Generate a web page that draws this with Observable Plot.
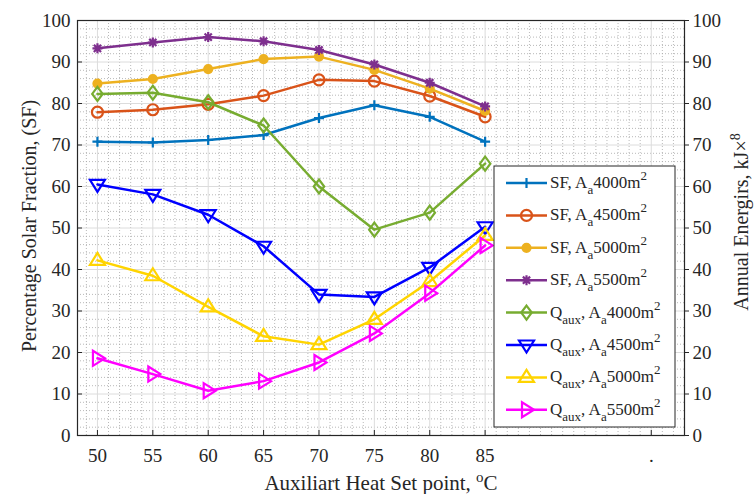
<!DOCTYPE html>
<html>
<head>
<meta charset="utf-8">
<script src="https://cdn.jsdelivr.net/npm/d3@7"></script>
<script src="https://cdn.jsdelivr.net/npm/@observablehq/plot@0.6"></script>
<style>
  html, body { margin: 0; padding: 0; background: #fff; }
  svg { display: block; }
  svg text, svg tspan { font-family: "Liberation Serif", "DejaVu Serif", serif !important; }
</style>
</head>
<body>
<div id="chart"></div>
<script>
// ---- data ----
const temps = [50, 55, 60, 65, 70, 75, 80, 85];
const sf4000 = [70.8, 70.6, 71.2, 72.4, 76.5, 79.6, 76.8, 70.8];
const sf4500 = [77.9, 78.5, 79.8, 81.9, 85.7, 85.4, 81.8, 76.8];
const sf5000 = [84.8, 85.9, 88.3, 90.7, 91.3, 88.1, 83.6, 78.2];
const sf5500 = [93.3, 94.7, 96.0, 95.0, 92.9, 89.4, 85.0, 79.3];
const q4000 = [82.3, 82.6, 80.3, 74.7, 60.0, 49.6, 53.7, 65.5];
const q4500 = [60.5, 58.1, 53.2, 45.6, 34.0, 33.4, 40.5, 50.3];
const q5000 = [42.2, 38.5, 31.0, 23.9, 21.9, 28.0, 37.1, 48.2];
const q5500 = [18.6, 14.8, 10.8, 13.1, 17.6, 24.6, 34.3, 45.8];

const seriesValues = [sf4000, sf4500, sf5000, sf5500, q4000, q4500, q5000, q5500];
const seriesKind = ["SF", "SF", "SF", "SF", "Q", "Q", "Q", "Q"];
const seriesKindSub = ["", "", "", "", "aux", "aux", "aux", "aux"];
const seriesArea = ["4000", "4500", "5000", "5500", "4000", "4500", "5000", "5500"];
const seriesColors = ["#0072BD", "#D95319", "#EDB120", "#7E2F8E", "#77AC30", "#0000FF", "#FFD400", "#FF00FF"];

const xTicks = [50, 55, 60, 65, 70, 75, 80, 85, 100];
const xTickLabels = ["50", "55", "60", "65", "70", "75", "80", "85", "."];
const yTicks = [0, 10, 20, 30, 40, 50, 60, 70, 80, 90, 100];

const xLabel = "Auxiliart Heat Set point, ";
const yLabelLeft = "Percentage Solar Fraction, (SF)";
const yLabelRight = "Annual Energirs, kJ\u00d7";

// ---- marker shapes ----
const rad = size => Math.sqrt(size / Math.PI);
const symPlus = { draw(c, s) { const r = rad(s); c.moveTo(-r, 0); c.lineTo(r, 0); c.moveTo(0, -r); c.lineTo(0, r); } };
const symCircle = { draw(c, s) { const r = rad(s); c.moveTo(r, 0); c.arc(0, 0, r, 0, 2 * Math.PI); } };
const symStar = { draw(c, s) { const r = rad(s), k = r * 0.72; c.moveTo(-r, 0); c.lineTo(r, 0); c.moveTo(0, -r); c.lineTo(0, r); c.moveTo(-k, -k); c.lineTo(k, k); c.moveTo(-k, k); c.lineTo(k, -k); } };
const symDiamond = { draw(c, s) { const r = rad(s), w = r * 0.75; c.moveTo(0, -r); c.lineTo(w, 0); c.lineTo(0, r); c.lineTo(-w, 0); c.closePath(); } };
const symDown = { draw(c, s) { const r = rad(s); c.moveTo(-r, -r * 0.6); c.lineTo(r, -r * 0.6); c.lineTo(0, r); c.closePath(); } };
const symUp = { draw(c, s) { const r = rad(s); c.moveTo(-r, r * 0.6); c.lineTo(r, r * 0.6); c.lineTo(0, -r); c.closePath(); } };
const symRight = { draw(c, s) { const r = rad(s); c.moveTo(-r * 0.6, -r); c.lineTo(-r * 0.6, r); c.lineTo(r, 0); c.closePath(); } };

const seriesSymbols = [symPlus, symCircle, symCircle, symStar, symDiamond, symDown, symUp, symRight];
const seriesR = [5, 5.5, 4, 5, 7, 7.5, 7.5, 7.5];
const seriesFilled = [false, false, true, false, false, false, false, false];

// ---- table ----
const rows = [];
seriesValues.forEach((vals, i) => temps.forEach((t, j) => rows.push({ s: i, x: t, y: vals[j] })));

const FONT = "Liberation Serif, DejaVu Serif, serif";
const marks = [];
// minor grid
marks.push(Plot.ruleX(d3.range(49, 103).filter(v => !xTicks.includes(v)), { stroke: "#a8a8a8", strokeDasharray: "1,2", strokeWidth: 1, strokeOpacity: 0.8 }));
marks.push(Plot.ruleY(d3.range(2, 100, 2).filter(v => v % 10 !== 0), { stroke: "#a8a8a8", strokeDasharray: "1,2", strokeWidth: 1, strokeOpacity: 0.8 }));
// major grid
marks.push(Plot.ruleX(xTicks, { stroke: "#dcdcdc", strokeWidth: 1 }));
marks.push(Plot.ruleY(yTicks, { stroke: "#dcdcdc", strokeWidth: 1 }));
// axes
marks.push(Plot.axisX(xTicks, { anchor: "bottom", tickSize: 0, tickPadding: 13, tickFormat: d => xTickLabels[xTicks.indexOf(d)], label: null, fontSize: 19, fontFamily: FONT }));
marks.push(Plot.axisX(xTicks, { anchor: "bottom", tickSize: 5, text: null, dy: -5, label: null, stroke: "#262626" }));
marks.push(Plot.axisY(yTicks, { anchor: "left", tickSize: 0, tickPadding: 7, label: null, fontSize: 19, fontFamily: FONT }));
marks.push(Plot.axisY(yTicks, { anchor: "left", tickSize: 5, text: null, dx: 5, label: null, stroke: "#262626" }));
marks.push(Plot.axisY(yTicks, { anchor: "right", tickSize: 4, tickPadding: 4, label: null, fontSize: 19, fontFamily: FONT, stroke: "#262626" }));
marks.push(Plot.frame({ stroke: "#262626", strokeWidth: 1.2 }));
// series
seriesValues.forEach((_, i) => {
  const d = rows.filter(r => r.s === i);
  marks.push(Plot.line(d, { x: "x", y: "y", stroke: seriesColors[i], strokeWidth: 2.5 }));
  marks.push(Plot.dot(d, {
    x: "x", y: "y", symbol: () => seriesSymbols[i], r: seriesR[i],
    stroke: seriesColors[i], fill: seriesFilled[i] ? seriesColors[i] : "none", strokeWidth: 2.2
  }));
});

const svg = Plot.plot({
  width: 755,
  height: 494,
  marginLeft: 77,
  marginRight: 71,
  marginTop: 20,
  marginBottom: 59,
  x: { domain: [48.2, 103] },
  y: { domain: [0, 100] },
  symbol: { type: "identity" },
  style: { fontFamily: FONT, fontSize: "19px", color: "#262626", background: "#fff" },
  marks
});

const s = d3.select(svg);

// axis titles
const xt = s.append("text").attr("x", 381).attr("y", 490).attr("text-anchor", "middle")
  .attr("font-family", FONT).attr("font-size", 21).attr("fill", "#262626");
xt.append("tspan").text(xLabel);
xt.append("tspan").attr("dy", -8).attr("font-size", 15).text("o");
xt.append("tspan").attr("dy", 8).text("C");

s.append("text").attr("transform", "translate(36,226) rotate(-90)").attr("text-anchor", "middle")
  .attr("font-family", FONT).attr("font-size", 20).attr("fill", "#262626").text(yLabelLeft);

const yr = s.append("text").attr("transform", "translate(748,222) rotate(-90)").attr("text-anchor", "middle")
  .attr("font-family", FONT).attr("font-size", 20).attr("fill", "#262626");
yr.append("tspan").text(yLabelRight);
yr.append("tspan").attr("dy", -8).attr("font-size", 14).text("8");

// legend
const lg = s.append("g").attr("text-anchor", "start");
lg.append("rect").attr("x", 494).attr("y", 166).attr("width", 181).attr("height", 261)
  .attr("fill", "#fff").attr("stroke", "#262626").attr("stroke-width", 1);
seriesValues.forEach((_, i) => {
  const cy = 183 + i * 32.4;
  lg.append("line").attr("x1", 506).attr("x2", 547).attr("y1", cy).attr("y2", cy)
    .attr("stroke", seriesColors[i]).attr("stroke-width", 2.5);
  lg.append("path").attr("transform", `translate(526.5,${cy})`)
    .attr("d", d3.symbol().type(seriesSymbols[i]).size(Math.PI * seriesR[i] * seriesR[i])())
    .attr("stroke", seriesColors[i]).attr("stroke-width", 2.2)
    .attr("fill", seriesFilled[i] ? seriesColors[i] : "none");
  const t = lg.append("text").attr("x", 550).attr("y", cy + 5).attr("text-anchor", "start")
    .attr("font-family", FONT).attr("font-size", 17).attr("fill", "#262626");
  t.append("tspan").text(seriesKind[i]);
  if (seriesKindSub[i]) {
    t.append("tspan").attr("dy", 6).attr("font-size", 13).text(seriesKindSub[i]);
    t.append("tspan").attr("dy", -6).text(", A");
  } else {
    t.append("tspan").text(", A");
  }
  t.append("tspan").attr("dy", 6).attr("font-size", 13).text("a");
  t.append("tspan").attr("dy", -6).text(seriesArea[i] + "m");
  t.append("tspan").attr("dy", -8).attr("font-size", 13).text("2");
});

document.getElementById("chart").append(svg);
</script>
</body>
</html>
